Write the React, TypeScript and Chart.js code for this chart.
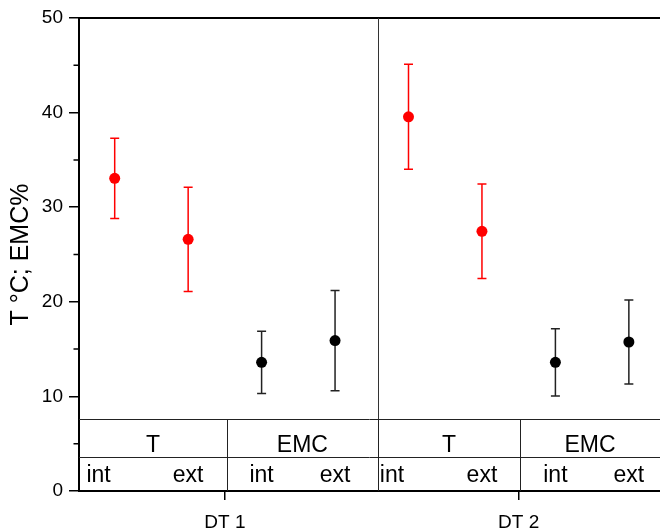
import React, { useEffect, useRef } from "react";
import { Chart, registerables } from "chart.js";

Chart.register(...registerables);

// ---------- data ----------
const dtCategories = ["DT 1", "DT 2"];
const dtTickPositions = [2.5, 6.5];
const groupLabels = ["T", "EMC", "T", "EMC"];
const subLabels = ["int", "ext", "int", "ext", "int", "ext", "int", "ext"];
const subLabelX = [0.78, 2, 3, 4, 4.775, 6, 7, 8];

const tX = [1, 2, 5, 6];
const tValues = [33.05, 26.6, 39.55, 27.45];
const tErrors = [4.25, 5.5, 5.55, 5.0];

const emcX = [3, 4, 7, 8];
const emcValues = [13.6, 15.9, 13.6, 15.75];
const emcErrors = [3.3, 5.3, 3.55, 4.45];

const yMajorTicks = [0, 10, 20, 30, 40, 50];
const yMinorTicks = [5, 15, 25, 35, 45];

// ---------- layout ----------
const X_MIN = 0.514;
const X_MAX = 8.424;
const groupBoundaries = [X_MIN, 2.53, 4.58, 6.52, X_MAX];
const DIVIDER_X = 4.58;
const TABLE_TOP = 7.65;
const TABLE_MID = 3.6;
const FONT = "'Liberation Sans', Arial, sans-serif";

const errorAndTablePlugin = {
  id: "errorAndTable",
  beforeDatasetsDraw(chart: any) {
    const ctx = chart.ctx;
    const xs = chart.scales.x;
    const ys = chart.scales.y;
    const drawBars = (xArr: number[], vals: number[], errs: number[], color: string) => {
      ctx.save();
      ctx.strokeStyle = color;
      ctx.lineWidth = 1.5;
      for (let i = 0; i < xArr.length; i++) {
        const px = xs.getPixelForValue(xArr[i]);
        const top = ys.getPixelForValue(vals[i] + errs[i]);
        const bot = ys.getPixelForValue(vals[i] - errs[i]);
        ctx.beginPath();
        ctx.moveTo(px, top);
        ctx.lineTo(px, bot);
        ctx.moveTo(px - 4.5, top);
        ctx.lineTo(px + 4.5, top);
        ctx.moveTo(px - 4.5, bot);
        ctx.lineTo(px + 4.5, bot);
        ctx.stroke();
      }
      ctx.restore();
    };
    drawBars(tX, tValues, tErrors, "#ff0000");
    drawBars(emcX, emcValues, emcErrors, "#222222");
  },
  afterDraw(chart: any) {
    const ctx = chart.ctx;
    const xs = chart.scales.x;
    const ys = chart.scales.y;
    const area = chart.chartArea;
    ctx.save();
    // top frame
    ctx.strokeStyle = "#000";
    ctx.lineWidth = 2;
    ctx.beginPath();
    ctx.moveTo(area.left - 1, area.top);
    ctx.lineTo(area.right, area.top);
    ctx.stroke();
    // minor ticks
    ctx.lineWidth = 1.5;
    ctx.beginPath();
    for (const v of yMinorTicks) {
      const py = ys.getPixelForValue(v);
      ctx.moveTo(area.left - 5.5, py);
      ctx.lineTo(area.left, py);
    }
    ctx.stroke();
    // divider
    ctx.strokeStyle = "#333";
    ctx.lineWidth = 1;
    const dx = Math.round(xs.getPixelForValue(DIVIDER_X)) + 0.5;
    ctx.beginPath();
    ctx.moveTo(dx, area.top);
    ctx.lineTo(dx, area.bottom);
    ctx.stroke();
    // table lines
    const tTop = Math.round(ys.getPixelForValue(TABLE_TOP)) + 0.5;
    const tMid = Math.round(ys.getPixelForValue(TABLE_MID)) + 0.5;
    ctx.strokeStyle = "#222";
    ctx.beginPath();
    ctx.moveTo(area.left, tTop);
    ctx.lineTo(area.right, tTop);
    ctx.moveTo(area.left, tMid);
    ctx.lineTo(area.right, tMid);
    for (let i = 1; i < groupBoundaries.length - 1; i++) {
      const bx = Math.round(xs.getPixelForValue(groupBoundaries[i])) + 0.5;
      ctx.moveTo(bx, tTop);
      ctx.lineTo(bx, area.bottom);
    }
    ctx.stroke();
    // table text
    ctx.fillStyle = "#000";
    ctx.font = `23px ${FONT}`;
    ctx.textAlign = "center";
    ctx.textBaseline = "alphabetic";
    for (let i = 0; i < groupLabels.length; i++) {
      const cx = (xs.getPixelForValue(groupBoundaries[i]) + xs.getPixelForValue(groupBoundaries[i + 1])) / 2;
      ctx.fillText(groupLabels[i], cx, tMid - 6);
    }
    for (let i = 0; i < subLabels.length; i++) {
      ctx.fillText(subLabels[i], xs.getPixelForValue(subLabelX[i]), area.bottom - 9.5);
    }
    ctx.restore();
  },
};

export default function App() {
  const ref = useRef<HTMLCanvasElement | null>(null);
  useEffect(() => {
    if (!ref.current) return;
    const chart = new Chart(ref.current, {
      type: "scatter",
      data: {
        datasets: [
          {
            label: "T",
            data: tX.map((x, i) => ({ x, y: tValues[i] })),
            backgroundColor: "#ff0000",
            borderWidth: 0,
            pointRadius: 5.5,
          },
          {
            label: "EMC",
            data: emcX.map((x, i) => ({ x, y: emcValues[i] })),
            backgroundColor: "#000000",
            borderWidth: 0,
            pointRadius: 5.5,
          },
        ],
      },
      options: {
        animation: false,
        responsive: false,
        layout: { autoPadding: false, padding: { top: 18, left: 0, right: 0, bottom: 0 } },
        plugins: { legend: { display: false }, tooltip: { enabled: false } },
        scales: {
          x: {
            type: "linear",
            min: X_MIN,
            max: X_MAX,
            afterBuildTicks: (scale: any) => {
              scale.ticks = dtTickPositions.map((v) => ({ value: v }));
            },
            afterFit: (scale: any) => {
              scale.height = 41;
              scale.paddingLeft = 0;
              scale.paddingRight = 0;
            },
            ticks: {
              callback: (_v: any, i: number) => dtCategories[i],
              font: { family: FONT, size: 19 },
              color: "#000",
              padding: 11,
              maxRotation: 0,
              autoSkip: false,
            },
            grid: { drawOnChartArea: false, drawTicks: true, tickLength: 9, color: "#000", lineWidth: 1.5 },
            border: { display: true, color: "#000", width: 2 },
          },
          y: {
            min: 0,
            max: 50,
            afterBuildTicks: (scale: any) => {
              scale.ticks = yMajorTicks.map((v) => ({ value: v }));
            },
            afterFit: (scale: any) => {
              scale.width = 79;
              scale.paddingTop = 0;
              scale.paddingBottom = 0;
            },
            ticks: {
              font: { family: FONT, size: 19 },
              color: "#000",
              padding: 6,
            },
            grid: { drawOnChartArea: false, drawTicks: true, tickLength: 10, color: "#000", lineWidth: 1.5 },
            border: { display: true, color: "#000", width: 2 },
            title: {
              display: true,
              text: "T °C; EMC%",
              font: { family: FONT, size: 25 },
              color: "#000",
              padding: { top: 6, bottom: 0 },
            },
          },
        },
      },
      plugins: [errorAndTablePlugin],
    });
    return () => chart.destroy();
  }, []);
  return (
    <div style={{ position: "fixed", left: 0, top: 0, width: 660, height: 532, background: "#fff" }}>
      <canvas ref={ref} width={660} height={532} style={{ display: "block" }} />
    </div>
  );
}
